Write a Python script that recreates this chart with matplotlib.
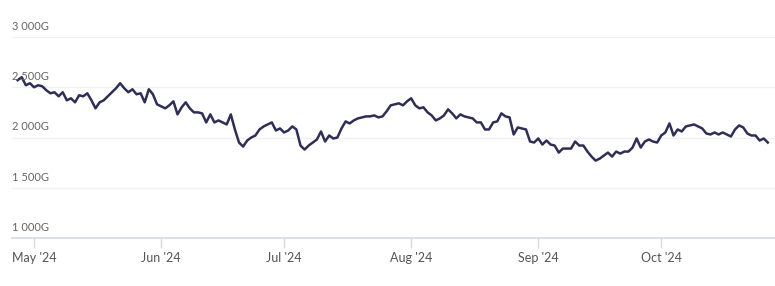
import numpy as np
import pandas as pd
import matplotlib
matplotlib.use('Agg')
import matplotlib.pyplot as plt
import matplotlib.dates as mdates
import matplotlib.transforms as mtransforms

# daily values, 2024-04-27 .. 2024-10-27 (in G)
start = '2024-04-27'
values = [
    2570, 2600, 2520, 2540, 2500, 2520, 2510, 2470, 2440, 2450,
    2410, 2450, 2370, 2390, 2350, 2420, 2410, 2440, 2370, 2290,
    2350, 2370, 2410, 2450, 2490, 2540, 2490, 2450, 2480, 2430,
    2440, 2350, 2480, 2430, 2330, 2310, 2290, 2320, 2360, 2230,
    2300, 2350, 2290, 2250, 2250, 2240, 2150, 2230, 2150, 2170,
    2150, 2130, 2230, 2080, 1950, 1910, 1970, 2000, 2020, 2080,
    2110, 2130, 2150, 2070, 2090, 2050, 2070, 2110, 2080, 1920,
    1880, 1920, 1950, 1980, 2060, 1960, 2020, 1990, 2000, 2090,
    2160, 2140, 2170, 2190, 2200, 2210, 2210, 2220, 2200, 2210,
    2260, 2320, 2330, 2340, 2320, 2360, 2390, 2320, 2290, 2300,
    2250, 2220, 2170, 2190, 2220, 2280, 2240, 2190, 2230, 2210,
    2200, 2190, 2150, 2150, 2080, 2080, 2150, 2160, 2240, 2210,
    2200, 2030, 2100, 2090, 2080, 1960, 1950, 1990, 1930, 1970,
    1930, 1920, 1850, 1890, 1890, 1890, 1960, 1920, 1920, 1860,
    1810, 1770, 1790, 1820, 1850, 1810, 1860, 1840, 1860, 1860,
    1900, 1990, 1900, 1960, 1980, 1960, 1950, 2020, 2050, 2140,
    2020, 2080, 2060, 2110, 2120, 2130, 2110, 2090, 2040, 2030,
    2050, 2030, 2050, 2030, 2010, 2080, 2120, 2100, 2040, 2020,
    2020, 1970, 1990, 1950,
]
dates = pd.date_range(start, periods=len(values), freq='D')

y_ticks = [1000, 1500, 2000, 2500, 3000]
x_ticks = ['2024-05-01', '2024-06-01', '2024-07-01', '2024-08-01',
           '2024-09-01', '2024-10-01']

plt.rcParams['font.family'] = ['Lato', 'DejaVu Sans']

fig = plt.figure(figsize=(7.75, 2.86), dpi=100)
ax = fig.add_axes([12/775, 1 - 238/286, (775-12)/775, (238-37)/286])

ax.plot(dates, values, color='#2f2f55', lw=1.8, solid_joinstyle='round')

ax.set_ylim(1000, 3000)
ax.set_xlim(pd.Timestamp('2024-04-25 15:00'), pd.Timestamp('2024-10-28 18:00'))

for s in ['top', 'right', 'left']:
    ax.spines[s].set_visible(False)
ax.spines['bottom'].set_color('#d5d9e3')
ax.spines['bottom'].set_linewidth(1.2)

ax.set_yticks(y_ticks)
ax.yaxis.grid(True, color='#f1f1f4', lw=1)
ax.tick_params(axis='y', length=0, labelleft=False)

trans = mtransforms.blended_transform_factory(ax.transAxes, ax.transData)
off = mtransforms.offset_copy(trans, fig=fig, x=0, y=5, units='dots')
for v in y_ticks:
    lab = f"{v:,}G".replace(',', ' ')
    ax.text(0.0, v, lab, transform=off, ha='left', va='bottom',
            fontsize=8, color='#666666')

ax.set_xticks(pd.to_datetime(x_ticks))
ax.xaxis.set_major_formatter(mdates.DateFormatter("%b '%y"))
ax.tick_params(axis='x', length=7, width=1, color='#d5d9e3',
               labelsize=9, labelcolor='#555555', pad=3)

plt.savefig('out.png', dpi=100)
